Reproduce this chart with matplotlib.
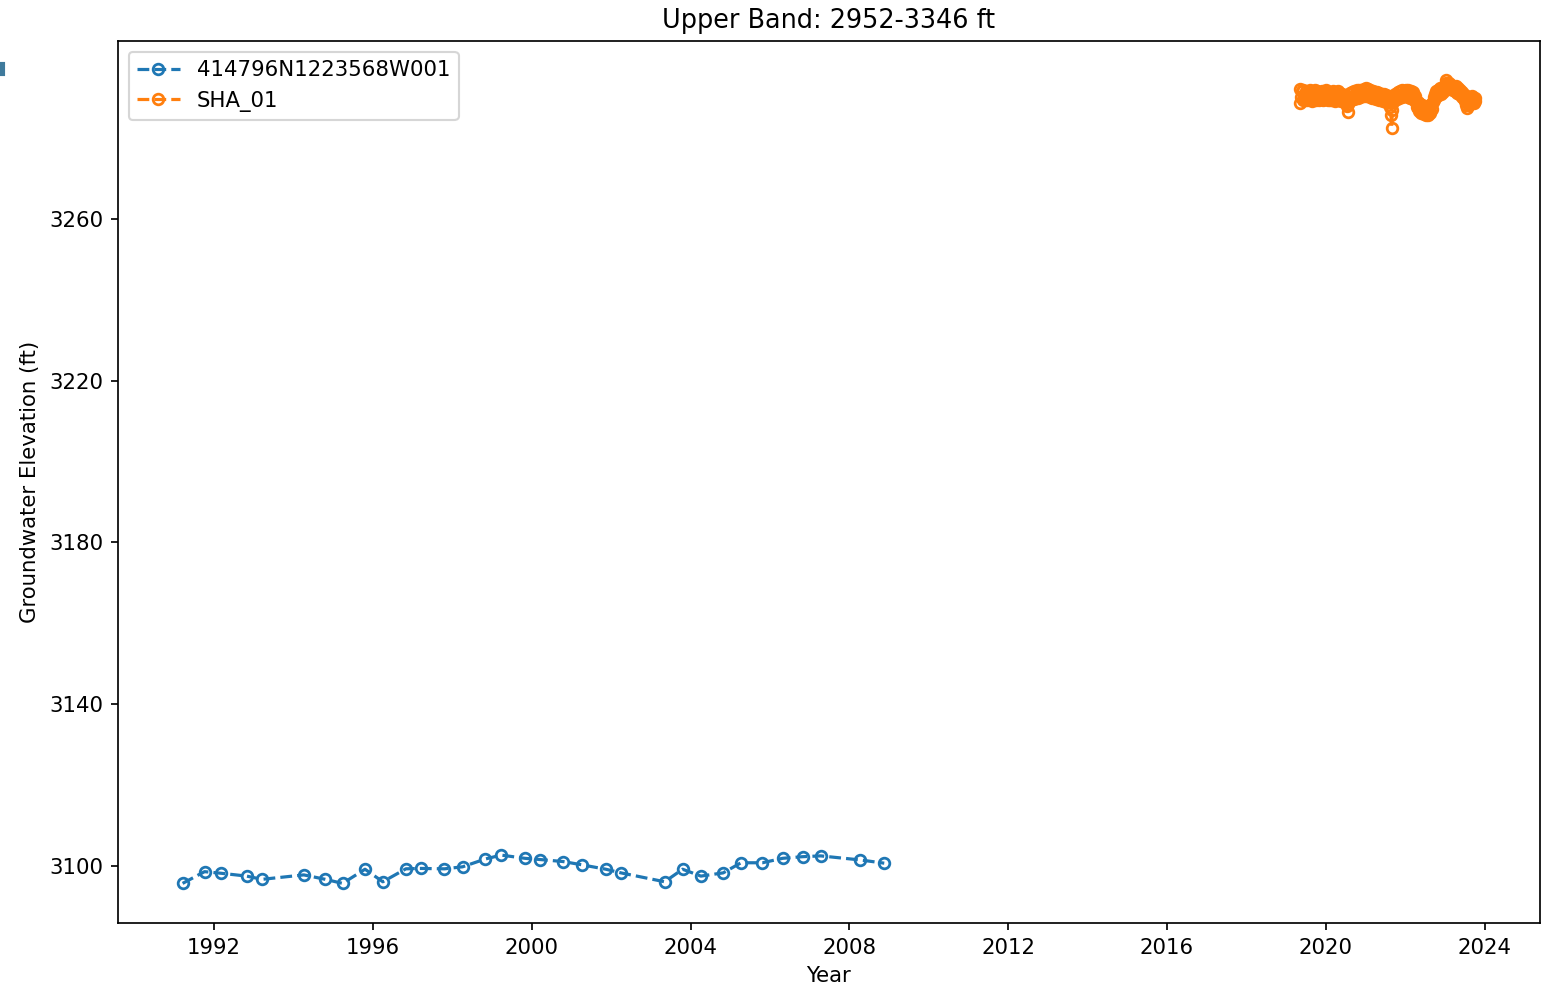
import pandas as pd
import matplotlib
matplotlib.use('Agg')
import matplotlib.pyplot as plt
from matplotlib.patches import Rectangle

# well 414796N1223568W001 - spring / fall measurements
well_dates = ['1991-03-17', '1991-10-05', '1992-03-07', '1992-10-27', '1993-03-17',
              '1994-04-05', '1994-10-20', '1995-03-28', '1995-10-20', '1996-04-01',
              '1996-10-30', '1997-03-17', '1997-10-20', '1998-04-05', '1998-10-27',
              '1999-03-25', '1999-10-30', '2000-03-17', '2000-10-16', '2001-04-05',
              '2001-11-13', '2002-04-01', '2003-05-08', '2003-10-20', '2004-04-05',
              '2004-10-27', '2005-04-09', '2005-10-23', '2006-04-27', '2006-10-27',
              '2007-04-12', '2008-04-09', '2008-11-17']
well_elev = [3095.7, 3098.6, 3098.2, 3097.5, 3096.7,
             3097.8, 3096.7, 3095.7, 3099.2, 3096.1,
             3099.3, 3099.4, 3099.3, 3099.8, 3101.7,
             3102.7, 3101.9, 3101.6, 3101.1, 3100.3,
             3099.2, 3098.3, 3096.1, 3099.2, 3097.5,
             3098.3, 3100.8, 3100.8, 3101.9, 3102.3,
             3102.5, 3101.5, 3100.7]

# SHA_01 transducer, weekly readings from May 2019
sha_start = '2019-05-05'
sha_elev = [
    # 2019
    3288.7, 3292.2, 3290.1, 3291.6, 3289.3, 3291.9, 3290.4, 3289.5, 3291.7, 3290.2, 3289.4, 3291.5,
    3290.8, 3289.6, 3291.8, 3290.3, 3289.2, 3291.4, 3290.6, 3289.7, 3291.9, 3290.1, 3289.5, 3291.6,
    3290.7, 3289.3, 3291.3, 3290.2, 3289.8, 3291.7, 3290.4, 3289.4, 3291.5, 3290.9, 3289.6,
    # 2020
    3291.8, 3290.2, 3289.4, 3291.5, 3290.6, 3289.3, 3291.2, 3290.0, 3289.5, 3291.6, 3290.3, 3289.2, 3291.4,
    3290.5, 3289.6, 3291.7, 3290.1, 3289.3, 3291.0, 3290.4, 3289.1, 3290.8, 3289.9, 3289.0, 3290.6, 3289.4,
    3288.8, 3287.9, 3286.5, 3288.4, 3289.6, 3291.1, 3290.0, 3289.4, 3291.3, 3290.5, 3289.7, 3291.6, 3290.2,
    3289.8, 3291.8, 3290.6, 3289.9, 3292.0, 3290.7, 3290.1, 3291.9, 3290.8, 3290.3, 3292.2, 3291.0, 3290.4,
    # 2021
    3292.3, 3291.0, 3290.4, 3292.1, 3290.8, 3290.2, 3291.9, 3290.6, 3290.0, 3291.7, 3290.5, 3289.8, 3291.5,
    3290.3, 3289.6, 3291.4, 3290.1, 3289.4, 3291.2, 3290.0, 3289.3, 3291.0, 3289.8, 3289.1, 3290.8, 3289.7,
    3289.0, 3290.6, 3289.5, 3288.8, 3290.3, 3288.9, 3287.6, 3285.8, 3282.5, 3286.9, 3288.8, 3290.4, 3289.6,
    3291.0, 3290.2, 3289.7, 3291.4, 3290.5, 3289.9, 3291.6, 3290.7, 3290.1, 3291.8, 3290.9, 3290.3, 3291.7,
    # 2022
    3290.6, 3292.0, 3290.9, 3290.2, 3291.8, 3290.7, 3290.0, 3291.6, 3290.4, 3289.8, 3291.3, 3290.1, 3289.5,
    3290.4, 3288.9, 3287.7, 3289.0, 3287.4, 3286.6, 3288.5, 3287.1, 3286.2, 3288.2, 3286.8, 3285.9, 3287.9,
    3286.5, 3285.6, 3287.6, 3286.3, 3285.8, 3287.9, 3286.7, 3286.1, 3288.4, 3287.3, 3288.9, 3290.2, 3289.4,
    3290.9, 3291.7, 3290.5, 3291.3, 3292.0, 3290.8, 3291.5, 3292.3, 3291.0, 3291.8, 3292.6, 3291.4, 3292.2,
    # 2023
    3292.9, 3293.6, 3294.4, 3293.1, 3292.4, 3293.5, 3292.8, 3292.1, 3293.2, 3292.6, 3291.9, 3293.0, 3292.3,
    3291.7, 3292.8, 3291.9, 3291.2, 3292.4, 3291.5, 3290.8, 3291.9, 3290.9, 3290.2, 3291.4, 3290.4, 3289.7,
    3290.6, 3289.2, 3288.3, 3287.4, 3288.9, 3288.1, 3289.4, 3288.6, 3289.9, 3288.8, 3290.3, 3289.3, 3288.7,
    3289.8, 3289.1]

well_x = pd.to_datetime(well_dates)
sha_x = pd.date_range(start=sha_start, periods=len(sha_elev), freq='7D')

dpi = 153
fig, ax = plt.subplots(figsize=(1542 / dpi, 991 / dpi), dpi=dpi)
fig.subplots_adjust(left=0.0765, right=0.9987, bottom=0.0686, top=0.9586)

ax.plot(well_x, well_elev, linestyle='--', marker='o', markersize=5,
        markeredgewidth=1.3, markerfacecolor='none', color='tab:blue',
        label='414796N1223568W001')
ax.plot(sha_x, sha_elev, linestyle='--', marker='o', markersize=5,
        markeredgewidth=1.3, markerfacecolor='none', color='tab:orange',
        label='SHA_01')

ax.set_yticks([3100, 3140, 3180, 3220, 3260])
ax.set_ylim(3085.9, 3304.0)
ax.set_title('Upper Band: 2952-3346 ft')
ax.set_xlabel('Year')
ax.set_ylabel('Groundwater Elevation (ft)')
ax.legend(loc='upper left')

# small marker at the left edge
fig.patches.append(Rectangle((0, 1 - 75 / 991), 4 / 1542, 12 / 991,
                             transform=fig.transFigure, color='#3f7a9c'))

fig.savefig('out.png', dpi=dpi)
